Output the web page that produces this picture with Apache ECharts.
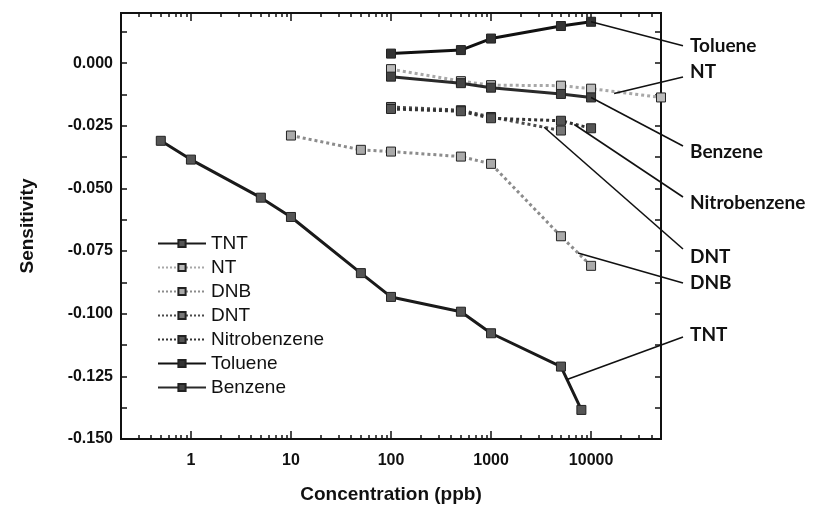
<!DOCTYPE html>
<html>
<head>
<meta charset="utf-8">
<script src="https://cdn.jsdelivr.net/npm/echarts@6/dist/echarts.min.js"></script>
<style>
html, body { margin: 0; padding: 0; background: #fff; }
#chart { width: 814px; height: 506px; }
</style>
</head>
<body>
<div id="chart"></div>
<script>
// tick positions
var xMajor = [1, 10, 100, 1000, 10000];
var xMinor = [0.3, 0.4, 0.5, 0.6, 0.7, 0.8, 0.9, 2, 3, 4, 5, 6, 7, 8, 9,
  20, 30, 40, 50, 60, 70, 80, 90, 200, 300, 400, 500, 600, 700, 800, 900,
  2000, 3000, 4000, 5000, 6000, 7000, 8000, 9000, 20000, 30000, 40000];
var yTicks = [-0.15, -0.1375, -0.125, -0.1125, -0.1, -0.0875, -0.075, -0.0625, -0.05,
  -0.0375, -0.025, -0.0125, 0, 0.0125];

// data (concentration ppb, sensitivity)
var tntX = [0.5, 1, 5, 10, 50, 100, 500, 1000, 5000, 8000];
var tntY = [-0.0310, -0.0385, -0.0537, -0.0614, -0.0838, -0.0933, -0.0992, -0.1078, -0.1211, -0.1384];
var ntX = [100, 500, 1000, 5000, 10000, 50000];
var ntY = [-0.0024, -0.0072, -0.0088, -0.0090, -0.0102, -0.0137];
var dnbX = [10, 50, 100, 500, 1000, 5000, 10000];
var dnbY = [-0.0289, -0.0346, -0.0353, -0.0373, -0.0402, -0.0691, -0.0809];
var dntX = [100, 500, 1000, 5000];
var dntY = [-0.0175, -0.0188, -0.0215, -0.0269];
var nitroX = [100, 500, 1000, 5000, 10000];
var nitroY = [-0.0183, -0.0192, -0.0220, -0.0230, -0.0260];
var tolX = [100, 500, 1000, 5000, 10000];
var tolY = [0.0038, 0.0052, 0.0098, 0.0148, 0.0165];
var benzX = [100, 500, 1000, 5000, 10000];
var benzY = [-0.0054, -0.0080, -0.0098, -0.0123, -0.0137];

// right side labels: name and where the leader leaves the curve (data)
var calloutNames = ['Toluene', 'NT', 'Benzene', 'Nitrobenzene', 'DNT', 'DNB', 'TNT'];
var calloutFrom = [[10000, 0.0165], [17000, -0.0121], [10000, -0.0137], [6800, -0.0245],
  [3400, -0.0256], [7400, -0.0758], [5750, -0.1263]];

function pairs(xs, ys) {
  var out = [];
  for (var i = 0; i < xs.length; i++) out.push([xs[i], ys[i]]);
  return out;
}

function mk(name, xs, ys, color, type, fill) {
  return {
    name: name,
    type: 'line',
    data: pairs(xs, ys),
    symbol: 'rect',
    symbolSize: 9,
    lineStyle: { color: color, width: 3, type: type },
    itemStyle: { color: fill, borderColor: '#222', borderWidth: 1 },
    emphasis: { disabled: true },
    z: 3
  };
}

var font = 'Liberation Sans';
var chart = echarts.init(document.getElementById('chart'));

function xAx(pos, ticks, len, labels) {
  return {
    type: 'log', position: pos, min: 0.2, max: 50000,
    axisLine: { show: true, onZero: false, lineStyle: { color: '#111', width: 2 } },
    axisTick: { show: true, inside: true, length: len, customValues: ticks, lineStyle: { color: '#111', width: 1.5 } },
    axisLabel: labels ? {
      show: true, customValues: xMajor, margin: 14, color: '#111',
      fontFamily: font, fontWeight: 'bold', fontSize: 16,
      formatter: function (v) { return String(Math.round(v)); }
    } : { show: false },
    splitLine: { show: false },
    name: labels ? 'Concentration (ppb)' : '',
    nameLocation: 'middle', nameGap: 46,
    nameTextStyle: { fontFamily: font, fontWeight: 'bold', fontSize: 19, color: '#111' }
  };
}

function yAx(pos, labels) {
  return {
    type: 'value', position: pos, min: -0.15, max: 0.02, interval: 0.025,
    axisLine: { show: true, onZero: false, lineStyle: { color: '#111', width: 2 } },
    axisTick: { show: true, inside: true, length: 6, customValues: yTicks, lineStyle: { color: '#111', width: 1.5 } },
    axisLabel: labels ? {
      show: true, margin: 8, color: '#111', showMaxLabel: false,
      fontFamily: font, fontWeight: 'bold', fontSize: 16,
      formatter: function (v) { return v.toFixed(3); }
    } : { show: false },
    splitLine: { show: false },
    name: labels ? 'Sensitivity' : '',
    nameLocation: 'middle', nameGap: 84,
    nameTextStyle: { fontFamily: font, fontWeight: 'bold', fontSize: 19, color: '#111' }
  };
}

chart.setOption({
  animation: false,
  backgroundColor: '#fff',
  grid: { left: 121, right: 153, top: 13, bottom: 67, outerBoundsMode: 'none' },
  legend: {
    orient: 'vertical', left: 152, top: 229,
    itemWidth: 48, itemHeight: 9, itemGap: 5,
    textStyle: { fontFamily: font, fontSize: 19, color: '#111', lineHeight: 19 },
    data: ['TNT', 'NT', 'DNB', 'DNT', 'Nitrobenzene', 'Toluene', 'Benzene']
  },
  xAxis: [
    xAx('bottom', xMajor, 8, true),
    xAx('bottom', xMinor, 4, false),
    xAx('top', xMajor, 8, false),
    xAx('top', xMinor, 4, false)
  ],
  yAxis: [yAx('left', true), yAx('right', false)],
  series: [
    mk('TNT', tntX, tntY, '#1a1a1a', 'solid', '#555'),
    mk('NT', ntX, ntY, '#a8a8a8', 'dotted', '#bbb'),
    mk('DNB', dnbX, dnbY, '#8c8c8c', 'dotted', '#aaa'),
    mk('DNT', dntX, dntY, '#4a4a4a', 'dotted', '#777'),
    mk('Nitrobenzene', nitroX, nitroY, '#333', 'dotted', '#555'),
    mk('Toluene', tolX, tolY, '#111', 'solid', '#333'),
    mk('Benzene', benzX, benzY, '#2a2a2a', 'solid', '#444')
  ]
});

// leader lines and labels
var calloutEnd = [[683, 45.7], [683, 77], [683, 146], [683, 197], [683, 249], [683, 283], [683, 337]];
var calloutTextY = [45.7, 71.7, 151.7, 203, 256.7, 283, 335];
var g = [];
for (var i = 0; i < calloutNames.length; i++) {
  var p = chart.convertToPixel({ xAxisIndex: 0, yAxisIndex: 0 }, calloutFrom[i]);
  g.push({
    type: 'line', silent: true, z: 10,
    shape: { x1: p[0], y1: p[1], x2: calloutEnd[i][0], y2: calloutEnd[i][1] },
    style: { stroke: '#111', lineWidth: 1.6 }
  });
  g.push({
    type: 'text', silent: true, z: 10, x: 690, y: calloutTextY[i],
    style: {
      text: calloutNames[i], fill: '#111', fontFamily: 'Lato', fontWeight: 'bold',
      fontSize: 19, verticalAlign: 'middle', align: 'left'
    }
  });
}
chart.setOption({ graphic: g });
</script>
</body>
</html>
